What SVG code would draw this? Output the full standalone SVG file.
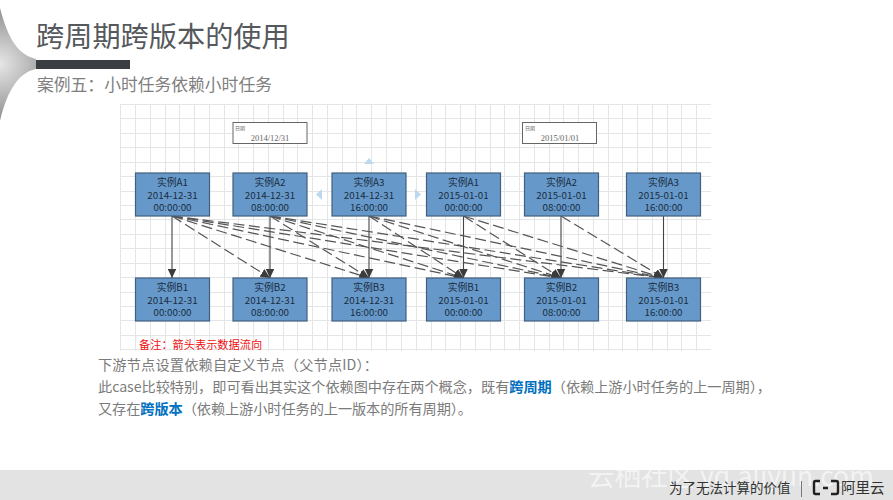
<svg xmlns="http://www.w3.org/2000/svg" width="893" height="500" viewBox="0 0 893 500">
<style>
text{font-family:"Noto Sans CJK SC","Noto Sans",sans-serif}
.grid line{stroke:#e4e5e7;stroke-width:1}
.node rect{fill:#6699c9;stroke:#41607f;stroke-width:1.2}
.node text{font-size:9.8px;fill:#1a2c42;text-anchor:middle}
.date rect{fill:#fff;stroke:#666;stroke-width:1}
.date .l{font-size:5px;fill:#666}
.date .d{font-family:"Liberation Serif",serif;font-size:8.5px;fill:#666;text-anchor:middle}
.s{stroke:#444;stroke-width:1.1;fill:none;marker-end:url(#a)}
.t{stroke:#555;stroke-width:1.2;fill:none;stroke-dasharray:11 4.500;marker-end:url(#a)}
.body{font-size:14.2px;fill:#7b7b7b}
.hl{fill:#0070c0;font-weight:700}
.tri{fill:#bcd9ee}
</style>
<defs>
<marker id="a" markerUnits="userSpaceOnUse" markerWidth="11" markerHeight="9" refX="9.500" refY="4.500" orient="auto"><path d="M0 0L9.500 4.500L0 9z" fill="#3c3c3c"/></marker>
<radialGradient id="sw" gradientUnits="userSpaceOnUse" cx="0" cy="64" r="58"><stop offset="0" stop-color="#e6e6e6"/><stop offset=".55" stop-color="#b5b5b5"/><stop offset="1" stop-color="#8f8f8f"/></radialGradient>
</defs>
<rect width="893" height="500" fill="#fff"/>
<path d="M0 8C6 30 14 54 36 59V69C16 73 6 96 0 121Z" fill="url(#sw)"/>
<rect x="36" y="60" width="94" height="9" fill="#3a3e42"/>
<text x="36" y="47" font-size="28.200" fill="#55585c">跨周期跨版本的使用</text>
<text x="37" y="91" font-size="16.800" fill="#808080">案例五：小时任务依赖小时任务</text>
<g class="grid">
<line x1="120.500" y1="104" x2="120.500" y2="351"/><line x1="135.500" y1="104" x2="135.500" y2="351"/><line x1="150.500" y1="104" x2="150.500" y2="351"/><line x1="165.500" y1="104" x2="165.500" y2="351"/><line x1="179.500" y1="104" x2="179.500" y2="351"/><line x1="194.500" y1="104" x2="194.500" y2="351"/><line x1="209.500" y1="104" x2="209.500" y2="351"/><line x1="224.500" y1="104" x2="224.500" y2="351"/><line x1="238.500" y1="104" x2="238.500" y2="351"/><line x1="253.500" y1="104" x2="253.500" y2="351"/><line x1="268.500" y1="104" x2="268.500" y2="351"/><line x1="283.500" y1="104" x2="283.500" y2="351"/><line x1="297.500" y1="104" x2="297.500" y2="351"/><line x1="312.500" y1="104" x2="312.500" y2="351"/><line x1="327.500" y1="104" x2="327.500" y2="351"/><line x1="342.500" y1="104" x2="342.500" y2="351"/><line x1="356.500" y1="104" x2="356.500" y2="351"/><line x1="371.500" y1="104" x2="371.500" y2="351"/><line x1="386.500" y1="104" x2="386.500" y2="351"/><line x1="401.500" y1="104" x2="401.500" y2="351"/><line x1="416.500" y1="104" x2="416.500" y2="351"/><line x1="431.500" y1="104" x2="431.500" y2="351"/><line x1="445.500" y1="104" x2="445.500" y2="351"/><line x1="460.500" y1="104" x2="460.500" y2="351"/><line x1="475.500" y1="104" x2="475.500" y2="351"/><line x1="490.500" y1="104" x2="490.500" y2="351"/><line x1="504.500" y1="104" x2="504.500" y2="351"/><line x1="519.500" y1="104" x2="519.500" y2="351"/><line x1="534.500" y1="104" x2="534.500" y2="351"/><line x1="549.500" y1="104" x2="549.500" y2="351"/><line x1="563.500" y1="104" x2="563.500" y2="351"/><line x1="578.500" y1="104" x2="578.500" y2="351"/><line x1="593.500" y1="104" x2="593.500" y2="351"/><line x1="608.500" y1="104" x2="608.500" y2="351"/><line x1="622.500" y1="104" x2="622.500" y2="351"/><line x1="637.500" y1="104" x2="637.500" y2="351"/><line x1="652.500" y1="104" x2="652.500" y2="351"/><line x1="667.500" y1="104" x2="667.500" y2="351"/><line x1="681.500" y1="104" x2="681.500" y2="351"/><line x1="696.500" y1="104" x2="696.500" y2="351"/>
<line x1="120" y1="104.500" x2="711" y2="104.500"/><line x1="120" y1="118.500" x2="711" y2="118.500"/><line x1="120" y1="133.500" x2="711" y2="133.500"/><line x1="120" y1="147.500" x2="711" y2="147.500"/><line x1="120" y1="162.500" x2="711" y2="162.500"/><line x1="120" y1="176.500" x2="711" y2="176.500"/><line x1="120" y1="191.500" x2="711" y2="191.500"/><line x1="120" y1="205.500" x2="711" y2="205.500"/><line x1="120" y1="219.500" x2="711" y2="219.500"/><line x1="120" y1="234.500" x2="711" y2="234.500"/><line x1="120" y1="248.500" x2="711" y2="248.500"/><line x1="120" y1="263.500" x2="711" y2="263.500"/><line x1="120" y1="277.500" x2="711" y2="277.500"/><line x1="120" y1="292.500" x2="711" y2="292.500"/><line x1="120" y1="306.500" x2="711" y2="306.500"/><line x1="120" y1="320.500" x2="711" y2="320.500"/><line x1="120" y1="335.500" x2="711" y2="335.500"/><line x1="120" y1="349.500" x2="711" y2="349.500"/>
</g>
<g id="date1" class="date"><rect x="233" y="122.500" width="74" height="21"/><text class="l" x="235" y="129.500">日期</text><text class="d" x="270" y="141">2014/12/31</text></g>
<g id="date2" class="date"><rect x="522.500" y="122.500" width="74" height="21"/><text class="l" x="525" y="129.500">日期</text><text class="d" x="560" y="141">2015/01/01</text></g>
<path class="tri" d="M364 164L369 158L374 164Z"/>
<path class="tri" d="M322 189V200L316 194.500Z"/>
<path class="tri" d="M415 189V200L421 194.500Z"/>
<g id="connectors">
<path class="s" d="M172 216V278"/><path class="s" d="M270 216V278"/><path class="s" d="M369 216V278"/><path class="s" d="M463.500 216V278"/><path class="s" d="M561 216V278"/><path class="s" d="M663.500 216V278"/>
<path class="t" d="M172 216L270 278"/><path class="t" d="M172 216L369 278"/><path class="t" d="M172 216L463.500 278"/><path class="t" d="M172 216L561 278"/><path class="t" d="M172 216L663.500 278"/>
<path class="t" d="M270 216L369 278"/><path class="t" d="M270 216L463.500 278"/><path class="t" d="M270 216L561 278"/><path class="t" d="M270 216L663.500 278"/>
<path class="t" d="M369 216L463.500 278"/><path class="t" d="M369 216L561 278"/><path class="t" d="M369 216L663.500 278"/>
<path class="t" d="M463.500 216L561 278"/><path class="t" d="M463.500 216L663.500 278"/>
<path class="t" d="M561 216L663.500 278"/>
</g>
<g id="a1" class="node"><rect x="135.500" y="173" width="74" height="43"/><text x="172.500" y="186">实例A1</text><text x="172.500" y="198.500">2014-12-31</text><text x="172.500" y="210.500">00:00:00</text></g>
<g id="a2" class="node"><rect x="233" y="173" width="74" height="43"/><text x="270" y="186">实例A2</text><text x="270" y="198.500">2014-12-31</text><text x="270" y="210.500">08:00:00</text></g>
<g id="a3" class="node"><rect x="332" y="173" width="74" height="43"/><text x="369" y="186">实例A3</text><text x="369" y="198.500">2014-12-31</text><text x="369" y="210.500">16:00:00</text></g>
<g id="a4" class="node"><rect x="426.500" y="173" width="74" height="43"/><text x="463.500" y="186">实例A1</text><text x="463.500" y="198.500">2015-01-01</text><text x="463.500" y="210.500">00:00:00</text></g>
<g id="a5" class="node"><rect x="524.500" y="173" width="74" height="43"/><text x="561.500" y="186">实例A2</text><text x="561.500" y="198.500">2015-01-01</text><text x="561.500" y="210.500">08:00:00</text></g>
<g id="a6" class="node"><rect x="626.500" y="173" width="74" height="43"/><text x="663.500" y="186">实例A3</text><text x="663.500" y="198.500">2015-01-01</text><text x="663.500" y="210.500">16:00:00</text></g>
<g id="b1" class="node"><rect x="135.500" y="278" width="74" height="43"/><text x="172.500" y="291">实例B1</text><text x="172.500" y="303.500">2014-12-31</text><text x="172.500" y="315.500">00:00:00</text></g>
<g id="b2" class="node"><rect x="233" y="278" width="74" height="43"/><text x="270" y="291">实例B2</text><text x="270" y="303.500">2014-12-31</text><text x="270" y="315.500">08:00:00</text></g>
<g id="b3" class="node"><rect x="332" y="278" width="74" height="43"/><text x="369" y="291">实例B3</text><text x="369" y="303.500">2014-12-31</text><text x="369" y="315.500">16:00:00</text></g>
<g id="b4" class="node"><rect x="426.500" y="278" width="74" height="43"/><text x="463.500" y="291">实例B1</text><text x="463.500" y="303.500">2015-01-01</text><text x="463.500" y="315.500">00:00:00</text></g>
<g id="b5" class="node"><rect x="524.500" y="278" width="74" height="43"/><text x="561.500" y="291">实例B2</text><text x="561.500" y="303.500">2015-01-01</text><text x="561.500" y="315.500">08:00:00</text></g>
<g id="b6" class="node"><rect x="626.500" y="278" width="74" height="43"/><text x="663.500" y="291">实例B3</text><text x="663.500" y="303.500">2015-01-01</text><text x="663.500" y="315.500">16:00:00</text></g>
<text x="139" y="349" font-size="11.200" fill="#f01010">备注：箭头表示数据流向</text>
<text class="body" x="98" y="370" textLength="280" lengthAdjust="spacing">下游节点设置依赖自定义节点（父节点ID）：</text>
<text class="body" x="98" y="392" textLength="673" lengthAdjust="spacing">此case比较特别，即可看出其实这个依赖图中存在两个概念，既有<tspan class="hl">跨周期</tspan>（依赖上游小时任务的上一周期），</text>
<text class="body" x="98" y="414" textLength="374" lengthAdjust="spacing">又存在<tspan class="hl">跨版本</tspan>（依赖上游小时任务的上一版本的所有周期）。</text>
<rect y="470" width="893" height="30" fill="#e2e3e2"/>
<text x="588" y="486" font-size="26.500" fill="#fff" fill-opacity=".6">云栖社区 yq.aliyun.com</text>
<text x="669" y="493" font-size="13.500" fill="#333">为了无法计算的价值</text>
<path d="M801.500 481V497" stroke="#777" fill="none"/>
<path d="M820 481H815.500Q814 481 814 483V492Q814 494 815.500 494H820M831 481H836Q838 481 838 483V492Q838 494 836 494H831M823 488H828" fill="none" stroke="#222" stroke-width="2.400"/>
<text x="841" y="493" font-size="14.500" fill="#333">阿里云</text>
</svg>
